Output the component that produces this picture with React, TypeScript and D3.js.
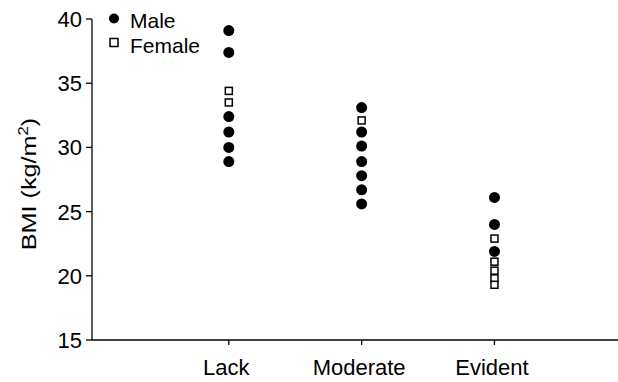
import React from "react";
import * as d3 from "d3";

const categories = ["Lack", "Moderate", "Evident"];
const categoryPos = [1, 2, 3];
const yTicks = [15, 20, 25, 30, 35, 40];

// Each point: group index, sex, BMI
const maleGroup = [0, 0, 0, 0, 0, 0, 1, 1, 1, 1, 1, 1, 1, 2, 2, 2];
const maleBMI = [39.1, 37.4, 32.4, 31.2, 30.0, 28.9, 33.1, 31.2, 30.1, 28.9, 27.8, 26.7, 25.6, 26.1, 24.0, 21.9];
const femaleGroup = [0, 0, 1, 2, 2, 2, 2, 2];
const femaleBMI = [34.4, 33.5, 32.1, 22.9, 21.1, 20.4, 19.8, 19.3];

export default function App() {
  const W = 618, H = 382;
  const x = d3.scaleLinear().domain([-0.03, 3.93]).range([92, 618]);
  const y = d3.scaleLinear().domain([15, 40]).range([340, 19]);
  const font = "Arial, 'Liberation Sans', sans-serif";
  const x0 = x(-0.03);

  return (
    <svg width={W} height={H} style={{ position: "absolute", left: 0, top: 0, background: "#fff" }} fontFamily={font}>
      {/* y axis */}
      <line x1={x0} x2={x0} y1={y(40)} y2={y(15)} stroke="#000" strokeWidth={1.3} />
      {yTicks.map((t) => (
        <g key={t}>
          <line x1={x0 - 6} x2={x0} y1={y(t)} y2={y(t)} stroke="#000" strokeWidth={1.3} />
          <text x={x0 - 10} y={y(t)} dy="0.36em" textAnchor="end" fontSize={22} fill="#000">{t}</text>
        </g>
      ))}
      {/* x axis */}
      <line x1={x0} x2={x(3.93)} y1={y(15)} y2={y(15)} stroke="#000" strokeWidth={1.3} />
      {categories.map((c, i) => (
        <g key={c}>
          <line x1={x(categoryPos[i])} x2={x(categoryPos[i])} y1={y(15)} y2={y(15) + 5} stroke="#000" strokeWidth={1.3} />
          <text x={x(categoryPos[i]) - 2.5} y={375} textAnchor="middle" fontSize={22} fill="#000">{c}</text>
        </g>
      ))}
      {/* y label */}
      <text transform={`translate(36,184) rotate(-90) scale(1.2,1)`} textAnchor="middle" fontSize={21} fill="#000">
        BMI (kg/m<tspan dy="-8" fontSize={14}>2</tspan><tspan dy="8">)</tspan>
      </text>
      {/* points */}
      {maleBMI.map((v, i) => (
        <circle key={"m" + i} cx={x(categoryPos[maleGroup[i]])} cy={y(v)} r={5.5} fill="#000" />
      ))}
      {femaleBMI.map((v, i) => (
        <rect key={"f" + i} x={x(categoryPos[femaleGroup[i]]) - 3.5} y={y(v) - 3.5} width={7} height={7} fill="#fff" stroke="#000" strokeWidth={1.5} />
      ))}
      {/* legend */}
      <circle cx={114} cy={18.5} r={5} fill="#000" />
      <text x={130} y={28} fontSize={21} fill="#000">Male</text>
      <rect x={110} y={38.5} width={8} height={8} fill="#fff" stroke="#000" strokeWidth={1.5} />
      <text x={130} y={53} fontSize={21} fill="#000">Female</text>
    </svg>
  );
}
